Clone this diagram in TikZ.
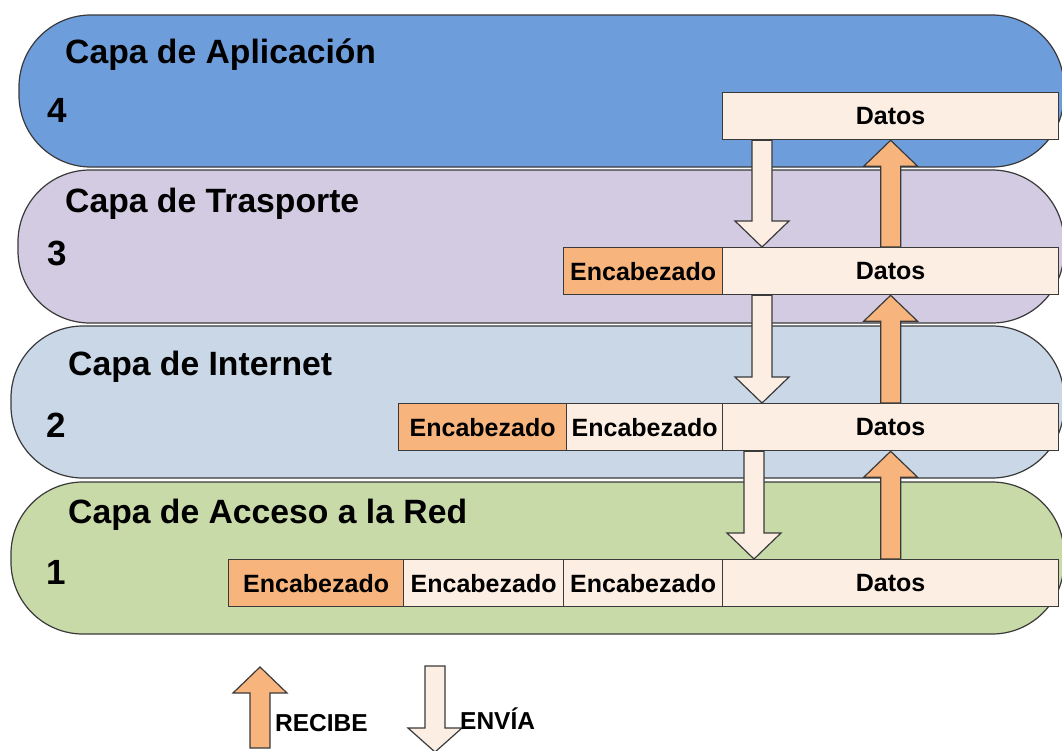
\documentclass[tikz,border=0pt]{standalone}
\usepackage{fontspec}
\setmainfont{Liberation Sans}
\usetikzlibrary{calc}
\definecolor{bandA}{HTML}{6D9DDB}
\definecolor{bandB}{HTML}{D3CBE1}
\definecolor{bandC}{HTML}{C9D7E7}
\definecolor{bandD}{HTML}{C9DAA9}
\definecolor{orangefill}{HTML}{F7B47C}
\definecolor{palefill}{HTML}{FDEEE3}
\definecolor{edge}{HTML}{3A3A3A}
\newcommand{\vbarrow}[4]{% start, tip, style, head length
  \draw[#3] let \p1=(#1), \p2=(#2), \n1={sign(\y2-\y1)} in
    (\x1-10,\y1) -- (\x1-10,\y2-\n1*#4) -- (\x1-27,\y2-\n1*#4) -- (\x1,\y2)
    -- (\x1+27,\y2-\n1*#4) -- (\x1+10,\y2-\n1*#4) -- (\x1+10,\y1) -- cycle;}
\begin{document}
\begin{tikzpicture}[x=1pt,y=-1pt,
  band/.style={draw=edge,line width=1.2pt,rounded corners=72pt},
  title/.style={anchor=base west,inner sep=0,font=\fontsize{33.7}{36}\selectfont\bfseries},
  num/.style={anchor=base west,inner sep=0,font=\fontsize{35}{38}\selectfont\bfseries},
  box/.style={draw=edge,line width=1.3pt,minimum height=47pt,inner sep=0,anchor=north west,
    font=\fontsize{25}{27}\selectfont\bfseries},
  hdr/.style={box,fill=orangefill},
  pale/.style={box,fill=palefill},
  sendarrow/.style={draw=edge,line width=1.2pt,fill=palefill},
  recvarrow/.style={draw=edge,line width=1.2pt,fill=orangefill},
  legend/.style={anchor=base west,inner sep=0,font=\fontsize{24.5}{27}\selectfont\bfseries}]
\useasboundingbox (0,0) rectangle (1062,750);
\clip (0,0) rectangle (1062,750);
\fill[white] (0,0) rectangle (1062,750);
% bands
\draw[band,fill=bandA] (19,15) rectangle (1064,167);
\draw[band,fill=bandB] (18,170) rectangle (1064,323);
\draw[band,fill=bandC] (11,326) rectangle (1064,478);
\draw[band,fill=bandD] (11,482) rectangle (1064,634);
% titles and numbers
\node[title] (t4) at (65,63) {Capa de Aplicación};
\node[title] (t3) at (65,212) {Capa de Trasporte};
\node[title] (t2) at (68,375) {Capa de Internet};
\node[title] (t1) at (68,523) {Capa de Acceso a la Red};
\node[num] (n4) at (47,122) {4};
\node[num] (n3) at (47,265) {3};
\node[num] (n2) at (46,437) {2};
\node[num] (n1) at (46,584) {1};
% boxes
\node[pale,minimum width=336pt] (d4) at (722,92) {Datos};
\node[hdr,minimum width=159pt] (e3) at (563,247) {Encabezado};
\node[pale,minimum width=336pt] (d3) at (722,247) {Datos};
\node[hdr,minimum width=168pt] (e2a) at (398,403) {Encabezado};
\node[pale,minimum width=156pt] (e2b) at (566,403) {Encabezado};
\node[pale,minimum width=336pt] (d2) at (722,403) {Datos};
\node[hdr,minimum width=175pt] (e1a) at (228,559) {Encabezado};
\node[pale,minimum width=160pt] (e1b) at (403,559) {Encabezado};
\node[pale,minimum width=159pt] (e1c) at (563,559) {Encabezado};
\node[pale,minimum width=336pt] (d1) at (722,559) {Datos};
% send arrows (down)
\vbarrow{$(d4.south west)+(40,0)$}{$(d3.north west)+(40,0)$}{sendarrow}{26}
\vbarrow{$(d3.south west)+(40,0)$}{$(d2.north west)+(40,0)$}{sendarrow}{26}
\vbarrow{$(d2.south west)+(32,0)$}{$(d1.north west)+(32,0)$}{sendarrow}{26}
% receive arrows (up)
\vbarrow{d3.north}{d4.south}{recvarrow}{26}
\vbarrow{d2.north}{d3.south}{recvarrow}{26}
\vbarrow{d1.north}{d2.south}{recvarrow}{26}
% legend
\coordinate (ru) at (260,748);
\coordinate (rt) at (260,667);
\coordinate (su) at (435,666);
\coordinate (st) at (435,752);
\vbarrow{ru}{rt}{recvarrow}{26}
\vbarrow{su}{st}{sendarrow}{24}
\node[legend] (lr) at (275,731) {RECIBE};
\node[legend] (ls) at (460,729) {ENVÍA};
\end{tikzpicture}
\end{document}
